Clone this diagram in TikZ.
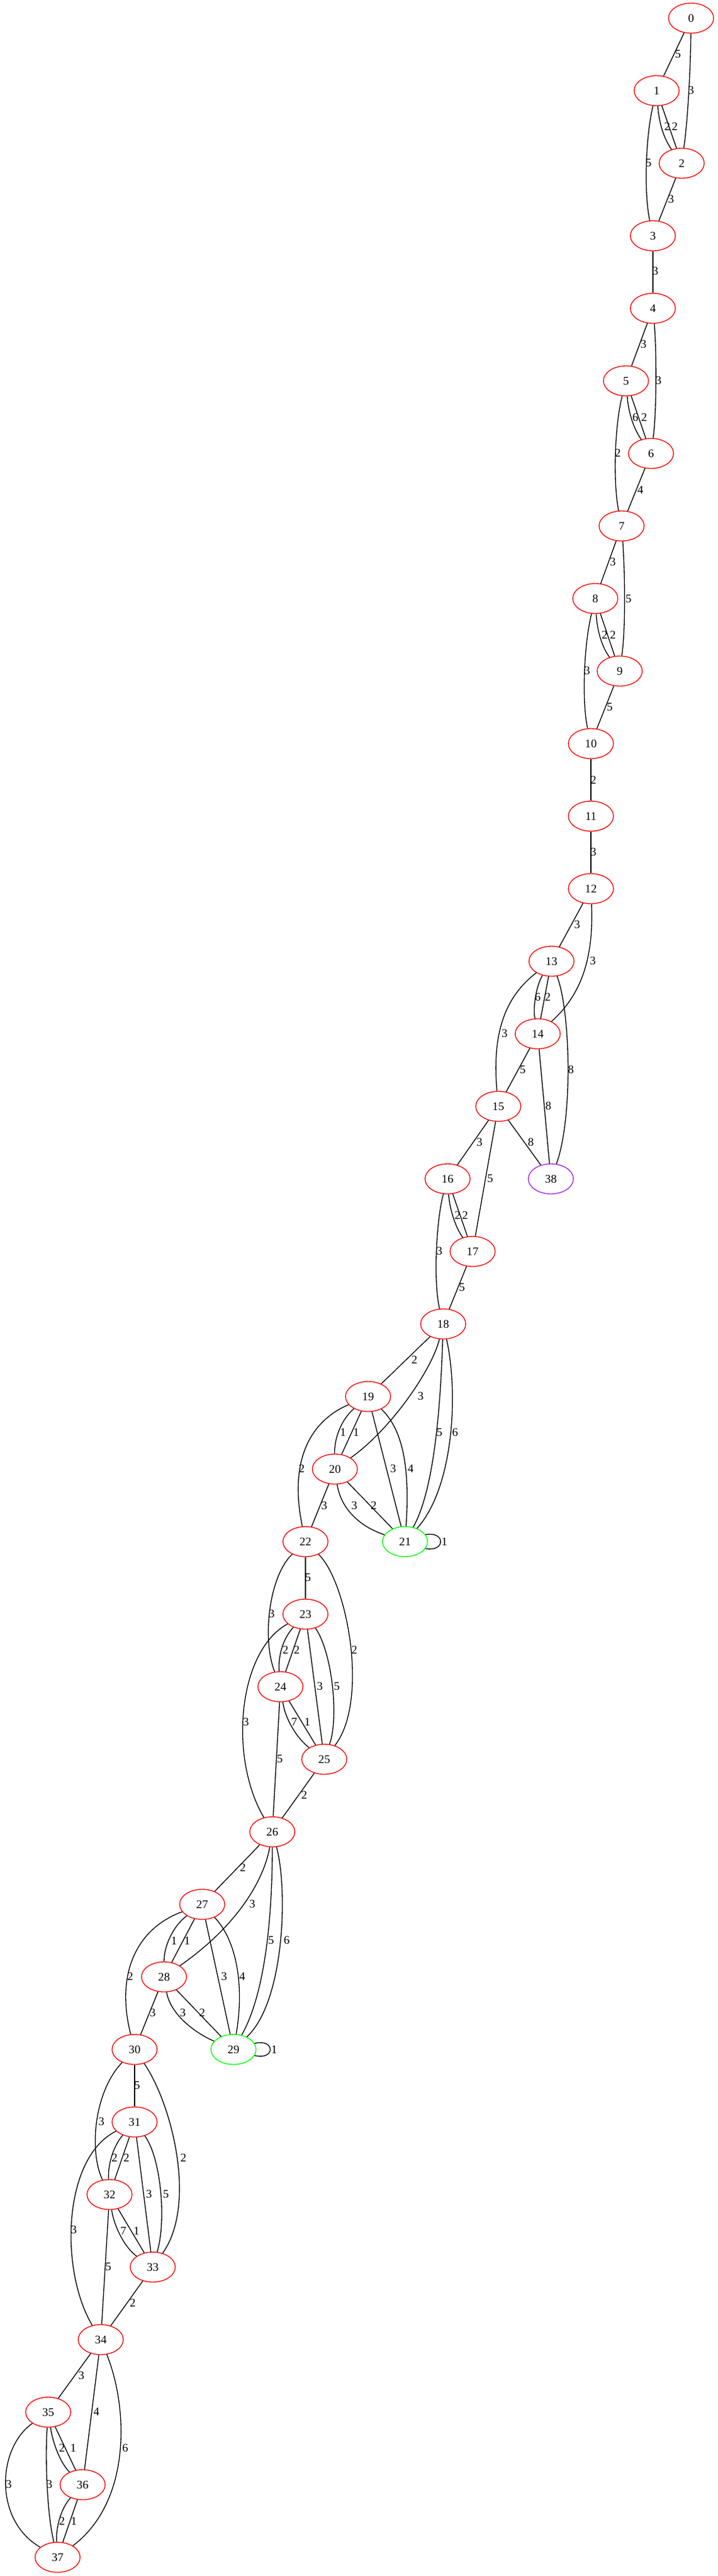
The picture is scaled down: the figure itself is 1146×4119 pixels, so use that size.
\documentclass[tikz,border=0pt]{standalone}
\usepackage{fontspec}
\setmainfont{Liberation Serif}
\usetikzlibrary{shapes.geometric}
\definecolor{vred}{RGB}{255,0,0}
\definecolor{vgreen}{RGB}{0,255,0}
\definecolor{vpurple}{RGB}{160,32,240}
\tikzset{
  vx/.style={ellipse, draw=vred, line width=1pt, minimum width=54pt, minimum height=36pt, inner sep=0pt, font=\fontsize{14}{16}\selectfont},
  el/.style={inner sep=0pt, font=\fontsize{14}{16}\selectfont},
  ed/.style={line width=1pt, black}
}
\begin{document}
\begin{tikzpicture}[x=0.75pt,y=-0.75pt]
\useasboundingbox (0,0) rectangle (1146,4119);
% nodes
\node[vx] (n0) at (1104,29) {0};
\node[vx] (n1) at (1049,145) {1};
\node[vx] (n2) at (1089,261) {2};
\node[vx] (n3) at (1043,377) {3};
\node[vx] (n4) at (1043,493) {4};
\node[vx] (n5) at (1000,609) {5};
\node[vx] (n6) at (1040,725) {6};
\node[vx] (n7) at (993,841) {7};
\node[vx] (n8) at (951,957) {8};
\node[vx] (n9) at (990,1073) {9};
\node[vx] (n10) at (944,1189) {10};
\node[vx] (n11) at (944,1305) {11};
\node[vx] (n12) at (944,1421) {12};
\node[vx] (n13) at (881,1537) {13};
\node[vx] (n14) at (859,1653) {14};
\node[vx] (n15) at (796,1769) {15};
\node[vx] (n16) at (715,1885) {16};
\node[vx] (n17) at (755,2001) {17};
\node[vx] (n18) at (708,2117) {18};
\node[vx] (n19) at (588,2233) {19};
\node[vx] (n20) at (535,2349) {20};
\node[vx,draw=vgreen] (n21) at (647,2465) {21};
\node[vx] (n22) at (488,2465) {22};
\node[vx] (n23) at (488,2581) {23};
\node[vx] (n24) at (448,2697) {24};
\node[vx] (n25) at (518,2813) {25};
\node[vx] (n26) at (435,2929) {26};
\node[vx] (n27) at (323,3045) {27};
\node[vx] (n28) at (262,3161) {28};
\node[vx,draw=vgreen] (n29) at (373,3277) {29};
\node[vx] (n30) at (215,3277) {30};
\node[vx] (n31) at (215,3393) {31};
\node[vx] (n32) at (175,3509) {32};
\node[vx] (n33) at (244,3625) {33};
\node[vx] (n34) at (161,3741) {34};
\node[vx] (n35) at (77,3857) {35};
\node[vx] (n36) at (132,3973) {36};
\node[vx] (n37) at (92,4089) {37};
\node[vx,draw=vpurple] (n38) at (880,1885) {38};
% edges
\draw[ed] (n0) -- (n1);
\draw[ed] (n0) .. controls (1103,110) and (1099,190) .. (n2);
\draw[ed] (n1) .. controls (1053,200) and (1062,224) .. (n2);
\draw[ed] (n1) -- (n2);
\draw[ed] (n1) .. controls (1032,215) and (1028,305) .. (n3);
\draw[ed] (n2) -- (n3);
\draw[ed] (n3) -- (n4);
\draw[ed] (n4) -- (n5);
\draw[ed] (n4) .. controls (1049,560) and (1049,660) .. (n6);
\draw[ed] (n5) .. controls (1004,660) and (1012,685) .. (n6);
\draw[ed] (n5) -- (n6);
\draw[ed] (n5) .. controls (982,680) and (979,770) .. (n7);
\draw[ed] (n6) -- (n7);
\draw[ed] (n7) -- (n8);
\draw[ed] (n7) .. controls (998,910) and (1000,1000) .. (n9);
\draw[ed] (n8) .. controls (954,1010) and (962,1035) .. (n9);
\draw[ed] (n8) -- (n9);
\draw[ed] (n8) .. controls (933,1030) and (929,1120) .. (n10);
\draw[ed] (n9) -- (n10);
\draw[ed] (n10) -- (n11);
\draw[ed] (n11) -- (n12);
\draw[ed] (n12) -- (n13);
\draw[ed] (n12) .. controls (948,1520) and (935,1585) .. (n14);
\draw[ed] (n13) .. controls (857,1575) and (851,1610) .. (n14);
\draw[ed] (n13) -- (n14);
\draw[ed] (n13) .. controls (805,1595) and (786,1655) .. (n15);
\draw[ed] (n13) .. controls (912,1620) and (915,1790) .. (n38);
\draw[ed] (n14) -- (n15);
\draw[ed] (n14) -- (n38);
\draw[ed] (n15) -- (n16);
\draw[ed] (n15) -- (n17);
\draw[ed] (n15) -- (n38);
\draw[ed] (n16) .. controls (718,1930) and (726,1960) .. (n17);
\draw[ed] (n16) -- (n17);
\draw[ed] (n16) .. controls (697,1950) and (692,2050) .. (n18);
\draw[ed] (n17) -- (n18);
\draw[ed] (n18) -- (n19);
\draw[ed] (n18) .. controls (690,2190) and (625,2285) .. (n20);
\draw[ed] (n18) .. controls (704,2240) and (695,2380) .. (n21);
\draw[ed] (n18) .. controls (733,2230) and (724,2380) .. (n21);
\draw[ed] (n19) .. controls (545,2270) and (534,2300) .. (n20);
\draw[ed] (n19) -- (n20);
\draw[ed] (n19) -- (n21);
\draw[ed] (n19) .. controls (648,2290) and (654,2360) .. (n21);
\draw[ed] (n19) .. controls (500,2270) and (460,2330) .. (n22);
\draw[ed] (n20) .. controls (544,2410) and (572,2440) .. (n21);
\draw[ed] (n20) -- (n21);
\draw[ed] (n20) -- (n22);
\draw[ed] (n21.19) .. controls (712,2448) and (712,2482) .. (n21.-19);
\draw[ed] (n22) -- (n23);
\draw[ed] (n22) .. controls (430,2520) and (418,2620) .. (n24);
\draw[ed] (n22) .. controls (555,2530) and (590,2720) .. (n25);
\draw[ed] (n23) .. controls (452,2620) and (444,2648) .. (n24);
\draw[ed] (n23) -- (n24);
\draw[ed] (n23) -- (n25);
\draw[ed] (n23) .. controls (530,2640) and (542,2745) .. (n25);
\draw[ed] (n23) .. controls (380,2640) and (365,2810) .. (n26);
\draw[ed] (n24) .. controls (456,2750) and (475,2780) .. (n25);
\draw[ed] (n24) -- (n25);
\draw[ed] (n24) -- (n26);
\draw[ed] (n25) -- (n26);
\draw[ed] (n26) -- (n27);
\draw[ed] (n26) .. controls (423,3000) and (385,3075) .. (n28);
\draw[ed] (n26) .. controls (435,3040) and (428,3180) .. (n29);
\draw[ed] (n26) .. controls (460,3020) and (455,3200) .. (n29);
\draw[ed] (n27) .. controls (276,3080) and (262,3112) .. (n28);
\draw[ed] (n27) -- (n28);
\draw[ed] (n27) -- (n29);
\draw[ed] (n27) .. controls (380,3105) and (390,3180) .. (n29);
\draw[ed] (n27) .. controls (215,3085) and (185,3160) .. (n30);
\draw[ed] (n28) .. controls (272,3220) and (310,3250) .. (n29);
\draw[ed] (n28) -- (n29);
\draw[ed] (n28) -- (n30);
\draw[ed] (n29.16) .. controls (440,3259) and (440,3295) .. (n29.-16);
\draw[ed] (n30) -- (n31);
\draw[ed] (n30) .. controls (150,3345) and (142,3440) .. (n32);
\draw[ed] (n30) .. controls (275,3365) and (315,3525) .. (n33);
\draw[ed] (n31) .. controls (182,3430) and (172,3460) .. (n32);
\draw[ed] (n31) -- (n32);
\draw[ed] (n31) -- (n33);
\draw[ed] (n31) .. controls (257,3450) and (266,3550) .. (n33);
\draw[ed] (n31) .. controls (100,3450) and (95,3630) .. (n34);
\draw[ed] (n32) .. controls (182,3560) and (200,3595) .. (n33);
\draw[ed] (n32) -- (n33);
\draw[ed] (n32) -- (n34);
\draw[ed] (n33) -- (n34);
\draw[ed] (n34) -- (n35);
\draw[ed] (n34) -- (n36);
\draw[ed] (n34) .. controls (205,3850) and (210,4000) .. (n37);
\draw[ed] (n35) .. controls (85,3910) and (98,3940) .. (n36);
\draw[ed] (n35) -- (n36);
\draw[ed] (n35) .. controls (-5,3915) and (-10,4030) .. (n37);
\draw[ed] (n35) .. controls (72,3930) and (75,4020) .. (n37);
\draw[ed] (n36) .. controls (98,4010) and (89,4040) .. (n37);
\draw[ed] (n36) -- (n37);
% edge labels
\node[el] (t0-1) at (1083,86) {5};
\node[el] (t0-2) at (1104,144) {3};
\node[el] (t1-2a) at (1066,202) {2};
\node[el] (t1-2b) at (1078,202) {2};
\node[el] (t1-3) at (1036,260) {5};
\node[el] (t2-3) at (1072,318) {3};
\node[el] (t3-4) at (1047,433) {3};
\node[el] (t4-5) at (1028,550) {3};
\node[el] (t4-6) at (1052,608) {3};
\node[el] (t5-6a) at (1015,667) {6};
\node[el] (t5-6b) at (1029,667) {2};
\node[el] (t5-7) at (987,724) {2};
\node[el] (t6-7) at (1023,783) {4};
\node[el] (t7-8) at (979,898) {3};
\node[el] (t7-9) at (1004,957) {5};
\node[el] (t8-9a) at (966,1015) {2};
\node[el] (t8-9b) at (979,1015) {2};
\node[el] (t8-10) at (938,1072) {3};
\node[el] (t9-10) at (974,1130) {5};
\node[el] (t10-11) at (948,1247) {2};
\node[el] (t11-12) at (948,1362) {3};
\node[el] (t12-13) at (922,1478) {3};
\node[el] (t12-14) at (947,1536) {3};
\node[el] (t13-14a) at (859,1594) {6};
\node[el] (t13-14b) at (875,1594) {2};
\node[el] (t13-15) at (806,1652) {3};
\node[el] (t13-38) at (912,1710) {8};
\node[el] (t14-15) at (835,1710) {5};
\node[el] (t14-38) at (876,1768) {8};
\node[el] (t15-16) at (766,1826) {3};
\node[el] (t15-17) at (783,1884) {5};
\node[el] (t15-38) at (848,1826) {8};
\node[el] (t16-17a) at (731,1943) {2};
\node[el] (t16-17b) at (743,1943) {2};
\node[el] (t16-18) at (702,2000) {3};
\node[el] (t17-18) at (738,2058) {5};
\node[el] (t18-19) at (662,2174) {2};
\node[el] (t18-20) at (672,2232) {3};
\node[el] (t18-21a) at (702,2290) {5};
\node[el] (t18-21b) at (727,2290) {6};
\node[el] (t19-20a) at (548,2290) {1};
\node[el] (t19-20b) at (569,2290) {1};
\node[el] (t19-21a) at (628,2348) {3};
\node[el] (t19-21b) at (656,2348) {4};
\node[el] (t19-22) at (482,2348) {2};
\node[el] (t20-21a) at (566,2407) {3};
\node[el] (t20-21b) at (597,2407) {2};
\node[el] (t20-22) at (518,2407) {3};
\node[el] (t21-21) at (710,2465) {1};
\node[el] (t22-23) at (492,2522) {5};
\node[el] (t22-24) at (434,2580) {3};
\node[el] (t22-25) at (566,2638) {2};
\node[el] (t23-24a) at (456,2638) {2};
\node[el] (t23-24b) at (474,2638) {2};
\node[el] (t23-25a) at (511,2696) {3};
\node[el] (t23-25b) at (538,2696) {5};
\node[el] (t23-26) at (393,2753) {3};
\node[el] (t24-25a) at (470,2753) {7};
\node[el] (t24-25b) at (491,2753) {1};
\node[el] (t24-26) at (447,2812) {5};
\node[el] (t25-26) at (486,2870) {2};
\node[el] (t26-27) at (388,2986) {2};
\node[el] (t26-28) at (403,3044) {3};
\node[el] (t26-29a) at (433,3102) {5};
\node[el] (t26-29b) at (458,3102) {6};
\node[el] (t27-28a) at (278,3103) {1};
\node[el] (t27-28b) at (299,3103) {1};
\node[el] (t27-29a) at (358,3160) {3};
\node[el] (t27-29b) at (387,3160) {4};
\node[el] (t27-30) at (208,3160) {2};
\node[el] (t28-29a) at (292,3218) {3};
\node[el] (t28-29b) at (323,3218) {2};
\node[el] (t28-30) at (244,3218) {3};
\node[el] (t29-29) at (438,3277) {1};
\node[el] (t30-31) at (219,3334) {5};
\node[el] (t30-32) at (162,3392) {3};
\node[el] (t30-33) at (293,3450) {2};
\node[el] (t31-32a) at (183,3450) {2};
\node[el] (t31-32b) at (202,3450) {2};
\node[el] (t31-33a) at (238,3508) {3};
\node[el] (t31-33b) at (265,3508) {5};
\node[el] (t31-34) at (118,3565) {3};
\node[el] (t32-33a) at (197,3567) {7};
\node[el] (t32-33b) at (218,3567) {1};
\node[el] (t32-34) at (173,3624) {5};
\node[el] (t33-34) at (212,3682) {2};
\node[el] (t34-35) at (130,3798) {3};
\node[el] (t34-36) at (154,3856) {4};
\node[el] (t34-37) at (200,3914) {6};
\node[el] (t35-36a) at (99,3914) {2};
\node[el] (t35-36b) at (117,3914) {1};
\node[el] (t35-37a) at (14,3972) {3};
\node[el] (t35-37b) at (79,3972) {3};
\node[el] (t36-37a) at (99,4031) {2};
\node[el] (t36-37b) at (118,4031) {1};
\end{tikzpicture}
\end{document}
